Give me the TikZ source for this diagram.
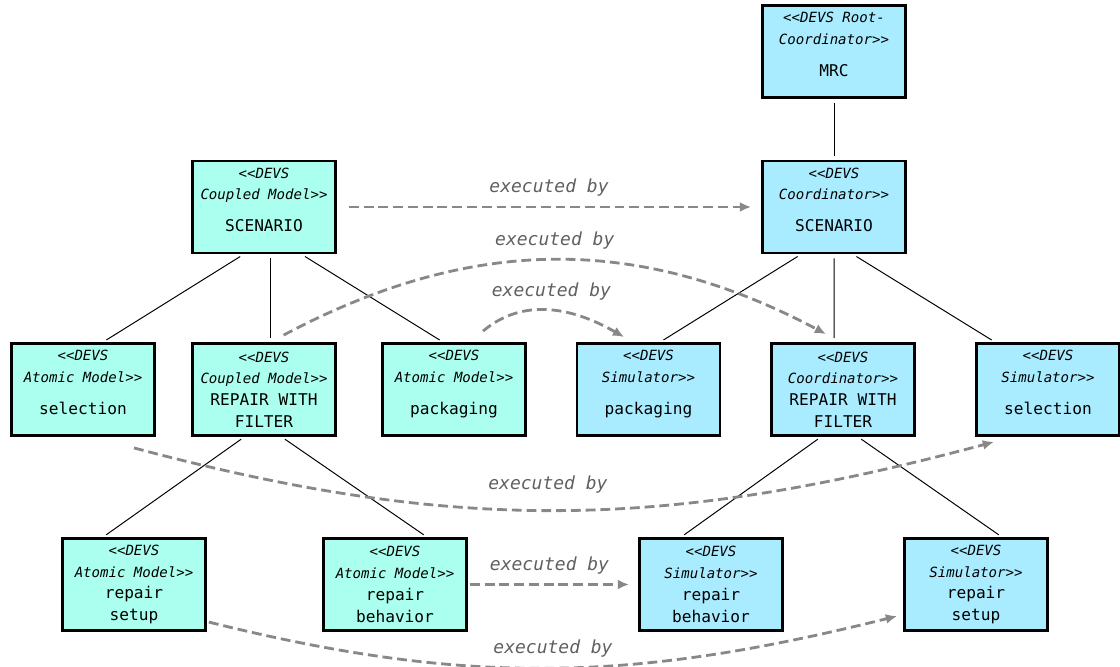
\documentclass[tikz,border=0pt]{standalone}
\usepackage{fontspec}
\setmonofont{DejaVu Sans Mono}
\definecolor{devsteal}{RGB}{170,255,238}
\definecolor{devsblue}{RGB}{170,236,255}
\definecolor{execgray}{RGB}{136,136,136}
\definecolor{labelgray}{RGB}{96,96,96}
\usetikzlibrary{arrows.meta,positioning,calc}
\newcommand{\stereo}[1]{{\fontsize{10}{15}\selectfont\itshape #1}}

\begin{document}
\begin{tikzpicture}[
  devsbox/.style={draw=black, line width=2pt, minimum width=3.575cm, minimum height=2.3cm, inner sep=0pt, align=center, font=\fontsize{11.5}{15.5}\selectfont\ttfamily},
  model/.style={devsbox, fill=devsteal},
  runner/.style={devsbox, fill=devsblue},
  link/.style={line width=0.7pt, shorten <=0.1cm, shorten >=0.1cm},
  execby/.style={-{Latex[length=8pt,width=7pt]}, draw=execgray, line width=2pt, dash pattern=on 7pt off 3.5pt},
  execlbl/.style={font=\fontsize{12.8}{15}\selectfont\ttfamily\itshape, text=labelgray, above=3pt}
]
  \useasboundingbox (0,0) rectangle (28,16.65);

  %--- Model side ---
  \node[model] (scn) at (6.6,11.475) {\stereo{<<DEVS}\\\stereo{Coupled Model>>}\\[7pt]SCENARIO\\[-5pt]\mbox{}};
  \node[model] (sela) at (2.075,6.9125) {\stereo{<<DEVS}\\\stereo{Atomic Model>>}\\[7pt]selection\\[-5pt]\mbox{}};
  \node[model] (repa) at (6.6,6.9125) {\stereo{<<DEVS}\\\stereo{Coupled Model>>}\\REPAIR WITH\\FILTER};
  \node[model] (packa) at (11.35,6.9125) {\stereo{<<DEVS}\\\stereo{Atomic Model>>}\\[7pt]packaging\\[-5pt]\mbox{}};
  \node[model] (setupa) at (3.35,2.0375) {\stereo{<<DEVS}\\\stereo{Atomic Model>>}\\repair\\setup};
  \node[model] (behava) at (9.875,2.0375) {\stereo{<<DEVS}\\\stereo{Atomic Model>>}\\repair\\behavior};

  %--- Simulator side ---
  \node[runner] (mrc) at (20.85,15.36) {\stereo{<<DEVS Root-}\\\stereo{Coordinator>>}\\[7pt]MRC\\[-5pt]\mbox{}};
  \node[runner] (scnc) at (20.85,11.475) {\stereo{<<DEVS}\\\stereo{Coordinator>>}\\[7pt]SCENARIO\\[-5pt]\mbox{}};
  \node[runner] (packs) at (16.2125,6.9125) {\stereo{<<DEVS}\\\stereo{Simulator>>}\\[7pt]packaging\\[-5pt]\mbox{}};
  \node[runner] (repc) at (21.075,6.9125) {\stereo{<<DEVS}\\\stereo{Coordinator>>}\\REPAIR WITH\\FILTER};
  \node[runner] (sels) at (26.2,6.9125) {\stereo{<<DEVS}\\\stereo{Simulator>>}\\[7pt]selection\\[-5pt]\mbox{}};
  \node[runner] (behavs) at (17.775,2.0375) {\stereo{<<DEVS}\\\stereo{Simulator>>}\\repair\\behavior};
  \node[runner] (setups) at (24.4,2.0375) {\stereo{<<DEVS}\\\stereo{Simulator>>}\\repair\\setup};

  %--- Hierarchy ---
  \draw[link] ([xshift=-0.51cm]scn.south) -- ([xshift=0.5cm]sela.north);
  \draw[link] ([xshift=0.17cm]scn.south) -- ([xshift=0.17cm]repa.north);
  \draw[link] ([xshift=0.94cm]scn.south) -- ([xshift=-0.275cm]packa.north);
  \draw[link] ([xshift=-0.49cm]repa.south) -- ([xshift=-0.775cm]setupa.north);
  \draw[link] ([xshift=0.44cm]repa.south) -- ([xshift=0.8cm]behava.north);

  \draw[link] (mrc) -- (scnc);
  \draw[link] ([xshift=-0.825cm]scnc.south) -- ([xshift=0.29cm]packs.north);
  \draw[link] (scnc.south) -- ([xshift=-0.225cm]repc.north);
  \draw[link] ([xshift=0.475cm]scnc.south) -- ([xshift=-1.325cm]sels.north);
  \draw[link] ([xshift=-0.55cm]repc.south) -- ([xshift=-0.75cm]behavs.north);
  \draw[link] ([xshift=0.375cm]repc.south) -- ([xshift=0.65cm]setups.north);

  %--- executed by ---
  \draw[execby, shorten <=0.3cm, shorten >=0.25cm] (scn.east) -- node[execlbl] {executed by} (scnc.west);
  \draw[execby] ([xshift=0.49cm,yshift=0.175cm]repa.north) to[out=28,in=152] node[execlbl] {executed by} ([xshift=-0.425cm,yshift=0.2cm]repc.north);
  \draw[execby] ([xshift=0.725cm,yshift=0.275cm]packa.north) to[out=40,in=150] node[execlbl] {executed by} ([xshift=-0.61cm,yshift=0.125cm]packs.north);
  \draw[execby] ([xshift=1.275cm,yshift=-0.275cm]sela.south) to[out=-15,in=195] node[execlbl, above=8pt, pos=0.48] {executed by} ([xshift=-1.35cm,yshift=-0.125cm]sels.south);
  \draw[execby] ([xshift=0.05cm]behava.east) -- node[execlbl] {executed by} ([xshift=-0.225cm]behavs.west);
  \draw[execby] ([xshift=0.05cm,yshift=-0.94cm]setupa.east) to[out=-14,in=194] node[execlbl] {executed by} ([xshift=-0.15cm,yshift=-0.79cm]setups.west);
\end{tikzpicture}
\end{document}
